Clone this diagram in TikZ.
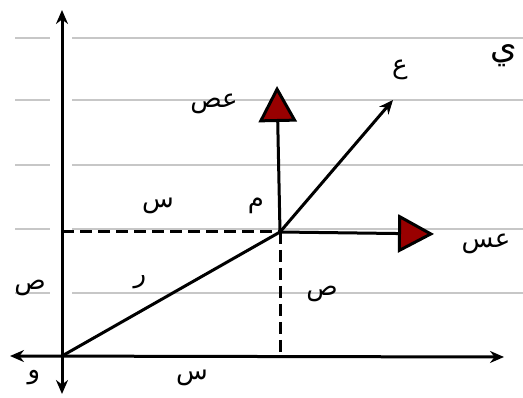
\documentclass[tikz,border=0pt]{standalone}
\usepackage{fontspec}
\newfontfamily\arabicfont[Script=Arabic]{DejaVu Sans}
\TeXXeTstate=1
\usetikzlibrary{arrows.meta,positioning}

\newcommand{\artxt}[1]{\arabicfont\beginR #1\endR}

\begin{document}
\begin{tikzpicture}[
  x=1pt, y=-1pt,
  >={Stealth[length=14pt,width=12pt]},
  font=\fontsize{26}{30}\selectfont,
  ruled/.style={black!22, line width=1.4pt},
  axis/.style={->, line width=3pt},
  comp/.style={-{Triangle[length=36pt,width=38pt,fill=red!60!black]}, line width=3pt},
  guide/.style={dash pattern=on 12pt off 6pt, line width=3pt},
  lbl/.style={inner sep=1pt}
]
\fill[white] (0,0) rectangle (523,398);
\useasboundingbox (0,0) rectangle (523,398);

% lined paper
\foreach \y in {38,100,165,229,293} {
  \draw[ruled] (15,\y) -- (50,\y);
  \draw[ruled] (72,\y) -- (523,\y);
}

\coordinate (O) at (62,356);
\coordinate (P) at (280,232);
\coordinate (Py) at (O |- P);
\coordinate (Px) at (P |- O);
\coordinate (xend) at (504,357);
\coordinate (xneg) at (10,356);
\coordinate (yend) at (62,10);
\coordinate (yneg) at (62,394);
\coordinate (vy) at (277,86);
\coordinate (vx) at (434,234);
\coordinate (v) at (393,100);

% axes
\draw[axis, <->] (xneg) -- (xend);
\draw[axis, <->] (yneg) -- (yend);

% projections
\draw[guide] (Py) -- (P);
\draw[guide] (P) -- (Px);
\draw[line width=3pt] (O) -- (P);

% vector and components
\draw[axis] (P) -- (v);
\draw[comp] (P) -- (vy);
\draw[comp] (P) -- (vx);

% labels
\node[lbl] (lvy) at (214,104) {\artxt{عص}};
\node[lbl] (lvx) at (486,244) {\artxt{عس}};
\node[lbl] (lv) at (400,70) {\artxt{ع}};
\node[lbl] (lp) at (256,206) {\artxt{م}};
\node[lbl] (lxd) at (158,206) {\artxt{س}};
\node[lbl] (lr) at (140,282) {\artxt{ر}};
\node[lbl] (lyl) at (30,288) {\artxt{ص}};
\node[lbl] (lyr) at (322,294) {\artxt{ص}};
\node[lbl] (lo) at (34,378) {\artxt{و}};
\node[lbl] (lxb) at (192,378) {\artxt{س}};
\node[lbl, font=\fontsize{34}{38}\selectfont] (ledge) at (504,56) {\artxt{ي}};
\end{tikzpicture}
\end{document}
